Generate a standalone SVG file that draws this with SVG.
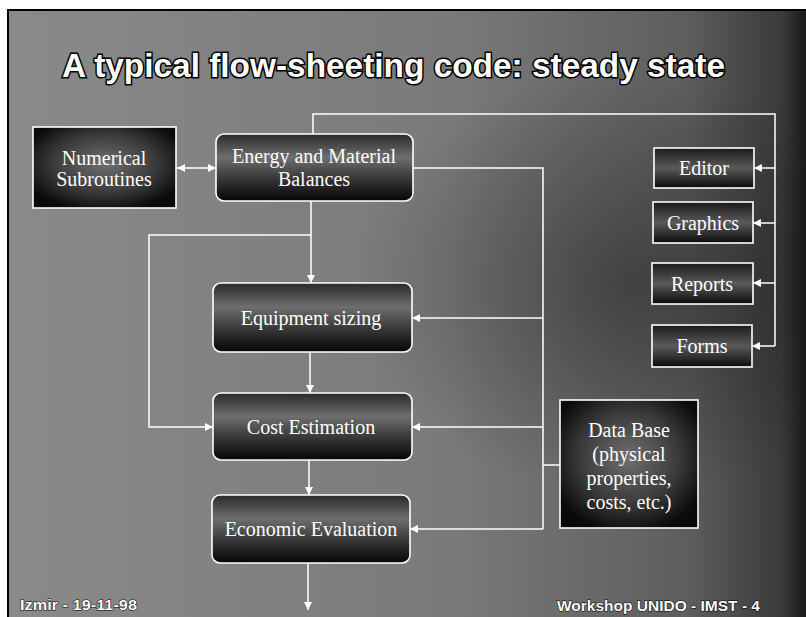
<svg xmlns="http://www.w3.org/2000/svg" width="806" height="617" viewBox="0 0 806 617">
  <defs>
    <linearGradient id="bg" x1="0" y1="0" x2="1" y2="0">
      <stop offset="0" stop-color="#8a8a8a"/>
      <stop offset="0.55" stop-color="#7a7a7a"/>
      <stop offset="0.85" stop-color="#5e5e5e"/>
      <stop offset="0.97" stop-color="#3a3a3a"/>
      <stop offset="1" stop-color="#1a1a1a"/>
    </linearGradient>
    <radialGradient id="dark" cx="0.78" cy="0.45" r="0.35">
      <stop offset="0" stop-color="#000" stop-opacity="0.35"/>
      <stop offset="1" stop-color="#000" stop-opacity="0"/>
    </radialGradient>
    <linearGradient id="boxg" x1="0" y1="0" x2="0" y2="1">
      <stop offset="0" stop-color="#2a2a2a"/>
      <stop offset="0.35" stop-color="#6e6e6e"/>
      <stop offset="0.65" stop-color="#3a3a3a"/>
      <stop offset="1" stop-color="#050505"/>
    </linearGradient>
    <radialGradient id="sqg" cx="0.5" cy="0.45" r="0.6">
      <stop offset="0" stop-color="#707070"/>
      <stop offset="0.6" stop-color="#3a3a3a"/>
      <stop offset="1" stop-color="#0a0a0a"/>
    </radialGradient>
    <linearGradient id="smg" x1="0" y1="0" x2="0" y2="1">
      <stop offset="0" stop-color="#1a1a1a"/>
      <stop offset="0.5" stop-color="#5a5a5a"/>
      <stop offset="1" stop-color="#0a0a0a"/>
    </linearGradient>
    <marker id="ah" viewBox="0 0 10 10" refX="10" refY="5" markerWidth="8" markerHeight="8" markerUnits="userSpaceOnUse" orient="auto-start-reverse">
      <path d="M0,0 L10,5 L0,10 Z" fill="#fff"/>
    </marker>
    <style>
      .rbox { fill: url(#boxg); stroke: #fff; stroke-width: 1.6; }
      .sbox { fill: url(#sqg); stroke: #fff; stroke-width: 1.6; }
      .mbox { fill: url(#smg); stroke: #fff; stroke-width: 1.6; }
      .lbl { font-family: "Liberation Serif", "Times New Roman", serif; font-size: 20px; fill: #fff; text-anchor: middle; }
      .con { fill: none; stroke: #fff; stroke-width: 1.5; }
      .arr { fill: none; stroke: #fff; stroke-width: 1.5; marker-end: url(#ah); }
      .foot { font-family: "Liberation Sans", Arial, sans-serif; font-weight: bold; font-size: 15px; fill: #fff; stroke: #000; stroke-width: 1; paint-order: stroke; }
    </style>
  </defs>

  <!-- page and slide background -->
  <rect x="0" y="0" width="806" height="617" fill="#fff"/>
  <rect x="8" y="10" width="798" height="607" fill="url(#bg)"/>
  <rect x="8" y="10" width="798" height="607" fill="url(#dark)"/>
  <path d="M8,617 L8,10 L806,10" fill="none" stroke="#000" stroke-width="2"/>

  <!-- title -->
  <text x="62" y="77" textLength="663" lengthAdjust="spacingAndGlyphs" font-family="Liberation Sans, Arial, sans-serif" font-weight="bold" font-size="33" fill="#fff" stroke="#000" stroke-width="3" paint-order="stroke">A typical flow-sheeting code: steady state</text>

  <!-- connectors -->
  <g id="connectors">
    <line class="arr" x1="177" y1="168" x2="216" y2="168" marker-start="url(#ah)"/>
    <path class="con" d="M313,134 L313,114 L775,114 L775,346"/>
    <line class="arr" x1="775" y1="168" x2="754" y2="168"/>
    <line class="arr" x1="775" y1="223" x2="753" y2="223"/>
    <line class="arr" x1="775" y1="283" x2="753" y2="283"/>
    <line class="arr" x1="775" y1="346" x2="752" y2="346"/>
    <line class="arr" x1="311" y1="201" x2="311" y2="283"/>
    <path class="arr" d="M311,235 L149,235 L149,427 L213,427"/>
    <path class="con" d="M413,168 L543,168 L543,529"/>
    <line class="arr" x1="543" y1="318" x2="412" y2="318"/>
    <line class="arr" x1="543" y1="427" x2="412" y2="427"/>
    <line class="arr" x1="543" y1="529" x2="410" y2="529"/>
    <line class="con" x1="543" y1="465" x2="560" y2="465"/>
    <line class="arr" x1="310" y1="352" x2="310" y2="393"/>
    <line class="arr" x1="309" y1="460" x2="309" y2="495"/>
    <line class="arr" x1="308" y1="563" x2="308" y2="610"/>
  </g>

  <!-- nodes -->
  <g id="numerical">
    <rect class="sbox" x="33" y="127" width="143" height="81"/>
    <text class="lbl" x="104" y="165">Numerical</text>
    <text class="lbl" x="104" y="186">Subroutines</text>
  </g>
  <g id="balances">
    <rect class="rbox" x="216" y="134" width="197" height="67" rx="8"/>
    <text class="lbl" x="314" y="163">Energy and Material</text>
    <text class="lbl" x="314" y="186">Balances</text>
  </g>
  <g id="sizing">
    <rect class="rbox" x="213" y="283" width="199" height="69" rx="8"/>
    <text class="lbl" x="311" y="325">Equipment sizing</text>
  </g>
  <g id="cost">
    <rect class="rbox" x="213" y="393" width="199" height="67" rx="8"/>
    <text class="lbl" x="311" y="434">Cost Estimation</text>
  </g>
  <g id="economic">
    <rect class="rbox" x="212" y="495" width="198" height="68" rx="8"/>
    <text class="lbl" x="311" y="536">Economic Evaluation</text>
  </g>
  <g id="editor">
    <rect class="mbox" x="654" y="148" width="100" height="40"/>
    <text class="lbl" x="704" y="175">Editor</text>
  </g>
  <g id="graphics">
    <rect class="mbox" x="653" y="202" width="100" height="41"/>
    <text class="lbl" x="703" y="230">Graphics</text>
  </g>
  <g id="reports">
    <rect class="mbox" x="652" y="263" width="101" height="41"/>
    <text class="lbl" x="702" y="291">Reports</text>
  </g>
  <g id="forms">
    <rect class="mbox" x="652" y="325" width="100" height="42"/>
    <text class="lbl" x="702" y="353">Forms</text>
  </g>
  <g id="database">
    <rect class="sbox" x="560" y="400" width="138" height="128"/>
    <text class="lbl" x="629" y="437">Data Base</text>
    <text class="lbl" x="629" y="461">(physical</text>
    <text class="lbl" x="629" y="485">properties,</text>
    <text class="lbl" x="629" y="509">costs, etc.)</text>
  </g>

  <!-- footer -->
  <text class="foot" x="20" y="610" textLength="117" lengthAdjust="spacingAndGlyphs">Izmir - 19-11-98</text>
  <text class="foot" x="557" y="611" textLength="203" lengthAdjust="spacingAndGlyphs">Workshop UNIDO - IMST - 4</text>
</svg>
